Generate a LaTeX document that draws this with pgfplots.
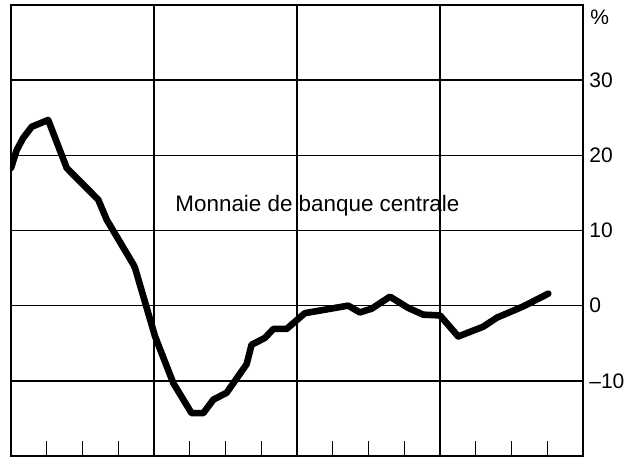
\documentclass[border=0pt]{standalone}
\usepackage{fontspec}
\setmainfont{Liberation Sans}
\usepackage{pgfplots}
\pgfplotsset{compat=1.18}
\begin{document}
\begin{tikzpicture}
\begin{axis}[
  name=ax,
  scale only axis,
  width=286pt, height=225.5pt,
  xmin=0, xmax=16, ymin=-20, ymax=40,
  axis line style={line width=1.3pt},
  xtick={1,2,3,5,6,7,9,10,11,13,14,15},
  xticklabels={},
  xtick pos=bottom,
  xtick align=inside,
  xtick style={line width=0.7pt, black},
  major tick length=7.5pt,
  extra x ticks={4,8,12},
  extra x tick labels={},
  extra x tick style={grid=major, major tick length=0pt},
  ytick={-10,0,10,20,30},
  yticklabels={\textendash10,0,10,20,30},
  ytick pos=right,
  ytick style={draw=none},
  ymajorgrids,
  grid style={line width=0.7pt, black},
  yticklabel style={anchor=west, inner sep=0pt, xshift=3pt, font=\fontsize{10.5}{12}\selectfont},
  /pgf/number format/assume math mode=true,
]
\addplot[black, line width=3.3pt, line join=round, line cap=round] coordinates {
(0,18.3) (0.16,20.7) (0.34,22.3) (0.58,23.8) (1.04,24.7) (1.56,18.3)
(2.44,14.1) (2.68,11.4) (3.42,5.5) (3.47,5.0) (4.03,-4.1) (4.54,-10.3)
(5.05,-14.3) (5.38,-14.3) (5.66,-12.5) (6.03,-11.6) (6.59,-7.8) (6.73,-5.2)
(7.10,-4.3) (7.34,-3.1) (7.71,-3.1) (8.22,-1.0) (9.43,0.0) (9.76,-0.9)
(10.09,-0.4) (10.6,1.2) (11.11,-0.3) (11.53,-1.2) (12.0,-1.3) (12.51,-4.1)
(13.21,-2.8) (13.59,-1.6) (14.33,-0.1) (15.03,1.6)
};
\node[anchor=base west, inner sep=0pt, font=\fontsize{11.2}{12}\selectfont] at (axis cs:4.59,12.5) {Monnaie de banque centrale};
\end{axis}
\node[anchor=west, inner sep=0pt, font=\fontsize{10.5}{12}\selectfont] at ([xshift=3.5pt,yshift=-6pt]ax.north east) {\%};
\path (ax.south west) ++(-5.5pt,-2pt) rectangle ([xshift=22.5pt,yshift=2.5pt]ax.north east);
\end{tikzpicture}
\end{document}
